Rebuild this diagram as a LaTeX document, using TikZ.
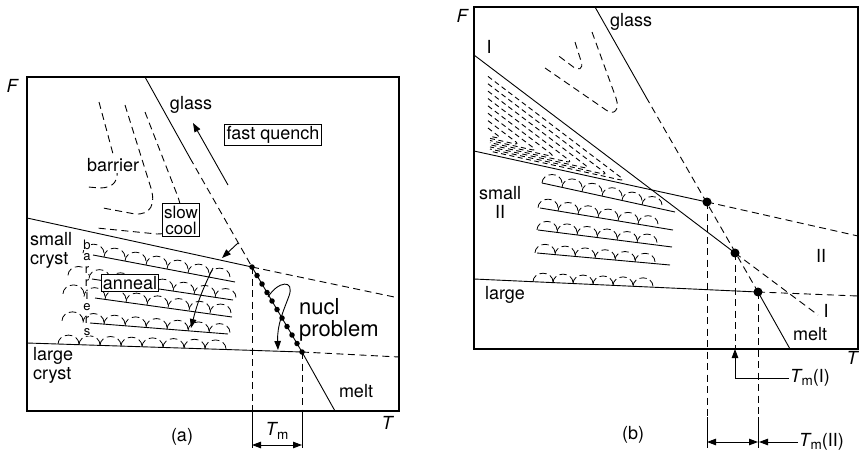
\documentclass[tikz,border=0pt]{standalone}
\usepackage{fontspec}
\setmainfont{TeX Gyre Heros}
\usetikzlibrary{calc,positioning,arrows.meta}
\tikzset{
 fe frame/.style={line width=1.3pt},
 fe line/.style={line width=.9pt},
 fe dash/.style={line width=.9pt,dash pattern=on 7pt off 4.5pt},
 fe contour/.style={line width=.9pt,dash pattern=on 5pt off 3.5pt,rounded corners=6pt},
 fe grain/.style={line width=.8pt},
 fe arrow/.style={line width=.9pt,-{Triangle[length=9pt,width=6.5pt]}},
 fe twoway/.style={line width=.9pt,
   {Triangle[length=9pt,width=6.5pt]}-{Triangle[length=9pt,width=6.5pt]}},
 fe dot/.style={circle,fill=black,minimum size=5.5pt,inner sep=0pt},
 fe bigdot/.style={circle,fill=black,minimum size=9pt,inner sep=0pt},
 fe label/.style={font=\fontsize{18}{19}\selectfont,inner sep=1pt},
 fe axis/.style={font=\fontsize{18}{19}\selectfont\itshape,inner sep=1pt},
 fe box/.style={fe label,draw,line width=.9pt,fill=white,inner sep=2pt},
 fe letter/.style={font=\fontsize{13}{13}\selectfont,fill=white,inner sep=0pt}
}
\newcommand\tmelt{{\itshape T}\kern.3pt\raisebox{-.35ex}{\fontsize{13.5}{13.5}\selectfont m}}
% one row of dashed grains sitting on a sloped line
\newcommand\grainrow[7]{%
 \pgfmathsetmacro\gon{.73*#1}\pgfmathsetmacro\goff{.36*#1}\pgfmathsetmacro\gry{.85*#1}%
 \foreach \gx in {#2,#3,...,#4}{%
  \pgfmathsetmacro\gy{#6+#7*(\gx-#5)}%
  \draw[fe grain,dash pattern=on \gon pt off \goff pt] (\gx,\gy)
    arc[start angle=180,end angle=0,x radius=#1pt,y radius=\gry pt];}}

\begin{document}
\begin{tikzpicture}[x=1pt,y=-1pt]
 \useasboundingbox (0,0) rectangle (861,452);

 %% ---------- (a) ----------
 \coordinate (aNW) at (27,77);
 \coordinate (aSE) at (399,411);
 \coordinate (g0) at (145,77);
 \coordinate (g1) at (190,158);
 \coordinate (m1) at (252,267);
 \coordinate (m2) at (302,352);
 \coordinate (g2) at (335,411);
 \coordinate (s0) at (27,218);
 \coordinate (s1) at (399,298);
 \coordinate (l0) at (27,343);
 \coordinate (l1) at (399,357);
 \draw[fe frame] (aNW) rectangle (aSE);
 \node[fe axis] (Fa) at (12,86) {F};
 \node[fe axis] (Ta) at (387,423) {T};

 \draw[fe line] (g0) -- (g1);
 \draw[fe dash] (g1) -- (m1);
 \draw[fe line] (m1) -- (m2) -- (g2);
 \draw[fe line] (s0) -- (m1);
 \draw[fe dash] (m1) -- (s1);
 \draw[fe line] (l0) -- (m2);
 \draw[fe dash] (m2) -- (l1);

 % layers between small and large
 \coordinate (r1a) at (93,255);  \coordinate (r1b) at (235,282);
 \coordinate (r2a) at (92,279);  \coordinate (r2b) at (233,300);
 \coordinate (r3a) at (95,298);  \coordinate (r3b) at (232,317);
 \coordinate (r4a) at (90,323);  \coordinate (r4b) at (228,334);
 \foreach \r in {1,...,4} \draw[fe line] (r\r a) -- (r\r b);
 \grainrow{10.5}{83}{104}{215}{93}{255}{.19}
 \grainrow{10.5}{68}{89}{215}{92}{279}{.15}
 \grainrow{10.5}{63}{84}{215}{95}{298}{.13}
 \grainrow{10.5}{62}{83}{210}{90}{323}{.08}
 \grainrow{10.5}{58}{79}{210}{27}{343}{.033}
 \foreach \ch/\yy [count=\k] in {b/245,a/257.5,r/270,r/282.5,i/295,e/307.5,r/320,s/332.5}
   \node[fe letter] (bl\k) at (87,\yy) {\ch};

 % barrier contours
 \draw[fe dash] (99,102) -- (116,165) .. controls (120,180) and (114,188) .. (100,188) -- (88,187);
 \draw[fe dash] (125,105) -- (150,185) .. controls (157,205) and (150,215) .. (135,214) -- (103,208);
 \draw[fe dash] (145,112) -- (178,197) .. controls (186,220) and (178,234) .. (157,234) -- (97,228);

 % verticals and T_m
 \draw[fe dash] (m1) -- (m1|-aSE);
 \draw[fe dash] (m2) -- (m2|-aSE);
 \draw[fe line] (m1|-aSE) -- ($(m1|-aSE)+(0,37)$);
 \draw[fe line] (m2|-aSE) -- ($(m2|-aSE)+(0,37)$);
 \draw[fe twoway] ($(m1|-aSE)+(0,34)$) -- ($(m2|-aSE)+(0,34)$);
 \node[fe label] (tma) at ($(m1|-aSE)!.5!(m2|-aSE)+(0,20)$) {\tmelt};

 % arrows
 \coordinate (fq0) at (228,185);
 \coordinate (fq1) at (193,123);
 \draw[fe arrow] (fq0) -- (fq1);
 \coordinate (sc0) at (238,243);
 \coordinate (sc1) at (222,258);
 \draw[fe arrow] (sc0) -- (sc1);
 \coordinate (an0) at (213,268);
 \coordinate (an1) at (191,328);
 \draw[fe arrow] (an0) to[bend right=6] (an1);
 \draw[fe arrow] (268,297) .. controls (278,281) and (295,279) .. (289,296)
   .. controls (283,312) and (277,325) .. (278,350);

 % texts
 \node[fe label] (glassa) at (191,105) {glass};
 \node[fe label,fill=white] (barr) at (113,165) {barrier};
 \node[fe box] (fast) at (273,135) {fast quench};
 \node[fe box,align=center,font=\fontsize{17}{16}\selectfont,inner sep=2pt] (slow) at (181,220) {slow\\cool};
 \node[fe label,align=left,anchor=west] (smalla) at (29,250) {small\\cryst};
 \node[fe label,align=left,anchor=west] (largea) at (32,365) {large\\cryst};
 \node[fe box,inner sep=1.5pt] (anneal) at (130,283) {anneal};
 \node[fe label,align=left,anchor=west,font=\fontsize{22}{21.5}\selectfont] (nucl) at (298,320) {nucl\\problem};
 \node[fe label] (melta) at (356,391) {melt};
 \node[fe label] (capa) at (182,437) {(a)};
 \foreach \i in {0,...,10} \node[fe dot] (nd\i) at ($(m1)!\i/10!(m2)$) {};

 %% ---------- (b) ----------
 \coordinate (bNW) at (474,7);
 \coordinate (bSE) at (858,349);
 \coordinate (h0) at (595,7);
 \coordinate (h1) at (646,97);
 \coordinate (P1) at (707,202);
 \coordinate (P2) at (735,253);
 \coordinate (P3) at (758,292);
 \coordinate (h2) at (790,349);
 \coordinate (i0) at (474,55);
 \coordinate (i1) at (818,315);
 \coordinate (j0) at (474,151);
 \coordinate (j1) at (858,236);
 \coordinate (k0) at (474,279);
 \coordinate (k1) at (858,296);
 \draw[fe frame] (bNW) rectangle (bSE);
 \node[fe axis] (Fb) at (462,16) {F};
 \node[fe axis] (Tb) at (852,358) {T};

 \draw[fe line] (h0) -- (h1);
 \draw[fe dash] (h1) -- (P3);
 \draw[fe line] (P3) -- (h2);
 \draw[fe line] (i0) -- (P2);
 \draw[fe dash] (P2) -- (i1);
 \draw[fe line] (j0) -- (P1);
 \draw[fe dash] (P1) -- (j1);
 \draw[fe line] (k0) -- (P3);
 \draw[fe dash] (P3) -- (k1);

 % layers between II and large
 \coordinate (t1a) at (542,183); \coordinate (t1b) at (675,212);
 \coordinate (t2a) at (540,208); \coordinate (t2b) at (673,230);
 \coordinate (t3a) at (538,230); \coordinate (t3b) at (672,247);
 \coordinate (t4a) at (537,253); \coordinate (t4b) at (670,265);
 \foreach \r in {1,...,4} \draw[fe line] (t\r a) -- (t\r b);
 \grainrow{10}{542}{562}{650}{542}{183}{.22}
 \grainrow{10}{538}{558}{650}{540}{208}{.165}
 \grainrow{10}{537}{557}{650}{538}{230}{.127}
 \grainrow{10}{535}{555}{650}{537}{253}{.09}
 \grainrow{10}{533}{553}{645}{474}{279}{.046}

 % contours above I
 \draw[fe dash] (575,42) -- (581,61) .. controls (584,70) and (578,71) .. (572,66) -- (556,54);
 \draw[fe dash] (592,32) -- (616,98) .. controls (620,110) and (614,116) .. (606,110) -- (545,68);
 % crowded contours in the wedge between I and II
 \foreach \r in {.15,.25,.35,.45,.55,.65,.75,.85}{
   \pgfmathsetmacro\vx{476+176*\r}
   \pgfmathsetmacro\vy{130+60*\r}
   \pgfmathsetmacro\uy{\vy-.76*(\vx-488)}
   \pgfmathsetmacro\ly{\vy-.22*(\vx-490)}
   \draw[fe contour] (488,\uy) -- (\vx,\vy) -- (490,\ly);
 }

 % verticals and melting points
 \draw[fe dash] (P1) -- ($(P1|-bSE)+(0,68)$);
 \draw[fe line] ($(P1|-bSE)+(0,68)$) -- ($(P1|-bSE)+(0,99)$);
 \draw[fe dash] (P3) -- ($(P3|-bSE)+(0,68)$);
 \draw[fe line] ($(P3|-bSE)+(0,68)$) -- ($(P3|-bSE)+(0,99)$);
 \draw[fe dash] (P2) -- (P2|-bSE);
 \draw[fe twoway] ($(P1|-bSE)+(0,93)$) -- ($(P3|-bSE)+(0,93)$);
 \node[fe label,anchor=west] (tmI) at (789,378) {\tmelt(I)};
 \node[fe label,anchor=west] (tmII) at (798,442) {\tmelt(II)};
 \draw[fe arrow] (tmI.west) -| (P2|-bSE);
 \draw[fe arrow] (tmII.west) -- ($(P3|-tmII.west)+(1,0)$);

 % texts
 \node[fe label] (glassb) at (631,22) {glass};
 \node[fe label] (Iup) at (489,47) {I};
 \node[fe label] (Idn) at (826,311) {I};
 \node[fe label] (IIr) at (821,256) {II};
 \node[fe label,align=center] (smallb) at (500,202) {small\\II};
 \node[fe label] (largeb) at (505,295) {large};
 \node[fe label] (meltb) at (810,334) {melt};
 \node[fe label] (capb) at (633,435) {(b)};
 \foreach \p in {P1,P2,P3} \node[fe bigdot] (dot\p) at (\p) {};
\end{tikzpicture}
\end{document}
